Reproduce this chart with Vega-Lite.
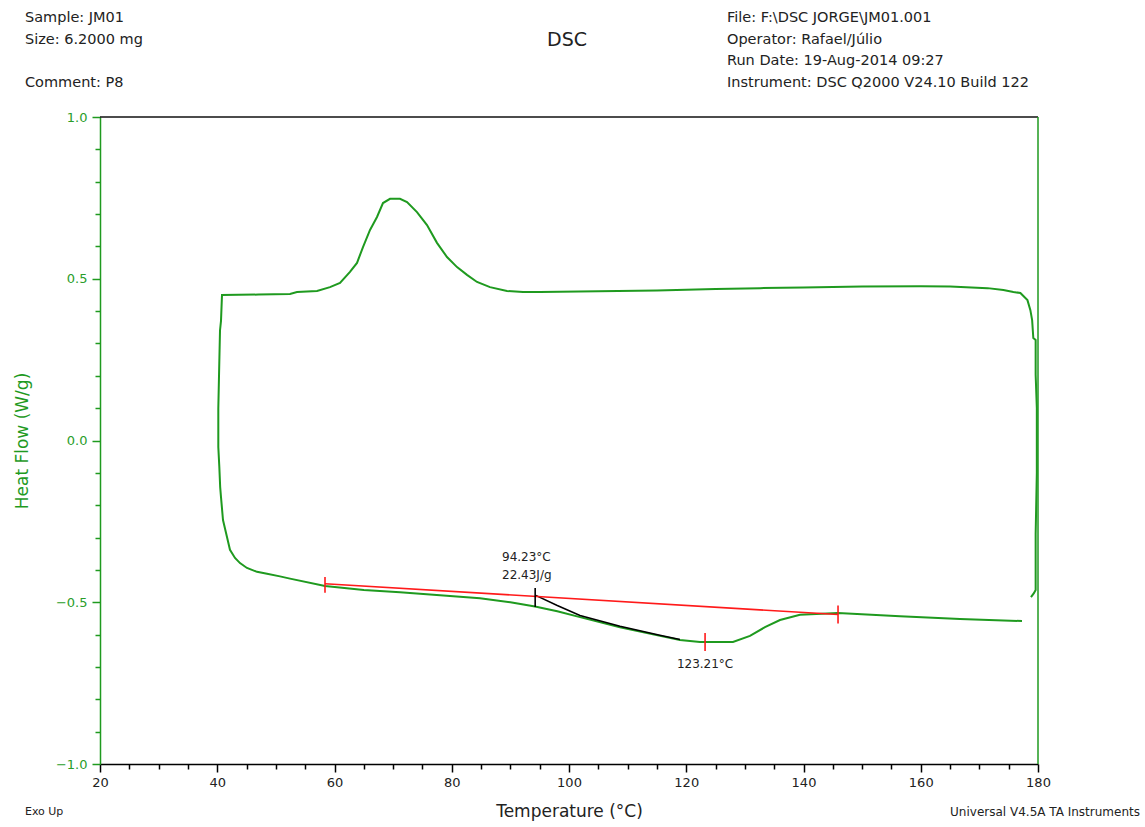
{
  "$schema": "https://vega.github.io/schema/vega-lite/v6.json",
  "width": 938,
  "height": 647,
  "autosize": {"type": "none"},
  "padding": {"left": 100, "top": 117, "right": 107, "bottom": 63},
  "background": "white",
  "config": {"view": {"stroke": null}, "font": "DejaVu Sans"},
  "datasets": {
    "curve": [
      {"i":1,"T":178.8,"HF":-0.484},{"i":2,"T":179.3,"HF":-0.472},{"i":3,"T":179.6,"HF":-0.462},{"i":4,"T":179.6,"HF":-0.29},
      {"i":5,"T":179.8,"HF":-0.1},{"i":6,"T":179.8,"HF":0.1},{"i":7,"T":179.6,"HF":0.203},{"i":8,"T":179.6,"HF":0.311},
      {"i":9,"T":179.2,"HF":0.317},{"i":10,"T":179.0,"HF":0.372},{"i":11,"T":178.7,"HF":0.403},{"i":12,"T":178.2,"HF":0.434},
      {"i":13,"T":177.0,"HF":0.456},{"i":14,"T":175.8,"HF":0.459},{"i":15,"T":174.1,"HF":0.465},{"i":16,"T":171.4,"HF":0.471},
      {"i":17,"T":165,"HF":0.476},{"i":18,"T":160,"HF":0.477},{"i":19,"T":150,"HF":0.476},{"i":20,"T":140,"HF":0.473},
      {"i":21,"T":132.6,"HF":0.471},{"i":22,"T":125,"HF":0.468},{"i":23,"T":115,"HF":0.464},{"i":24,"T":105,"HF":0.461},
      {"i":25,"T":95.05,"HF":0.459},{"i":26,"T":92.15,"HF":0.459},{"i":27,"T":89.42,"HF":0.462},{"i":28,"T":86.52,"HF":0.474},
      {"i":29,"T":84.31,"HF":0.49},{"i":30,"T":82.6,"HF":0.512},{"i":31,"T":80.9,"HF":0.536},{"i":32,"T":79.19,"HF":0.567},
      {"i":33,"T":77.48,"HF":0.611},{"i":34,"T":75.78,"HF":0.666},{"i":35,"T":74.07,"HF":0.706},{"i":36,"T":72.37,"HF":0.737},
      {"i":37,"T":71.17,"HF":0.747},{"i":38,"T":69.47,"HF":0.747},{"i":39,"T":68.27,"HF":0.734},{"i":40,"T":67.25,"HF":0.691},
      {"i":41,"T":66.06,"HF":0.651},{"i":42,"T":64.86,"HF":0.598},{"i":43,"T":63.84,"HF":0.549},{"i":44,"T":62.64,"HF":0.521},
      {"i":45,"T":60.94,"HF":0.487},{"i":46,"T":59.23,"HF":0.474},{"i":47,"T":57.02,"HF":0.462},{"i":48,"T":53.6,"HF":0.459},
      {"i":49,"T":52.41,"HF":0.453},{"i":50,"T":47,"HF":0.451},{"i":51,"T":40.81,"HF":0.45},{"i":52,"T":40.64,"HF":0.37},
      {"i":53,"T":40.47,"HF":0.34},{"i":54,"T":40.3,"HF":0.2},{"i":55,"T":40.18,"HF":0.1},{"i":56,"T":40.18,"HF":-0.02},
      {"i":57,"T":40.35,"HF":-0.08},{"i":58,"T":40.5,"HF":-0.144},{"i":59,"T":40.64,"HF":-0.175},{"i":60,"T":40.98,"HF":-0.246},
      {"i":61,"T":41.66,"HF":-0.298},{"i":62,"T":42.17,"HF":-0.338},{"i":63,"T":43.03,"HF":-0.363},{"i":64,"T":43.88,"HF":-0.379},
      {"i":65,"T":45.07,"HF":-0.394},{"i":66,"T":46.78,"HF":-0.406},{"i":67,"T":48.49,"HF":-0.412},{"i":68,"T":50.7,"HF":-0.42},
      {"i":69,"T":52.41,"HF":-0.427},{"i":70,"T":58.38,"HF":-0.45},{"i":71,"T":65,"HF":-0.462},{"i":72,"T":71.17,"HF":-0.469},
      {"i":73,"T":78,"HF":-0.478},{"i":74,"T":84.82,"HF":-0.488},{"i":75,"T":90,"HF":-0.5},{"i":76,"T":94.2,"HF":-0.513},
      {"i":77,"T":98,"HF":-0.528},{"i":78,"T":101.88,"HF":-0.546},{"i":79,"T":108.7,"HF":-0.577},{"i":80,"T":115.52,"HF":-0.604},
      {"i":81,"T":118.93,"HF":-0.617},{"i":82,"T":122.35,"HF":-0.623},{"i":83,"T":127.97,"HF":-0.623},{"i":84,"T":130.87,"HF":-0.604},
      {"i":85,"T":133.43,"HF":-0.577},{"i":86,"T":135.99,"HF":-0.555},{"i":87,"T":139.4,"HF":-0.539},{"i":88,"T":145.89,"HF":-0.533},
      {"i":89,"T":156.46,"HF":-0.543},{"i":90,"T":166.7,"HF":-0.552},{"i":91,"T":177.27,"HF":-0.558}
    ],
    "tangent": [
      {"T":94.23,"HF":-0.478},{"T":98,"HF":-0.51},{"T":101.88,"HF":-0.541},{"T":108.7,"HF":-0.574},{"T":115.5,"HF":-0.602},{"T":118.93,"HF":-0.615}
    ],
    "baseline": [
      {"T":58.38,"HF":-0.443},{"T":145.89,"HF":-0.538}
    ],
    "redMarks": [
      {"T":58.38,"HF":-0.422,"HF2":-0.471},
      {"T":145.89,"HF":-0.51,"HF2":-0.566},
      {"T":123.21,"HF":-0.595,"HF2":-0.651}
    ],
    "blackMarks": [
      {"T":94.23,"HF":-0.456,"HF2":-0.515}
    ],
    "annot": [
      {"label":"94.23°C","T":88.57,"HF":-0.36},
      {"label":"22.43J/g","T":88.57,"HF":-0.416}
    ],
    "peakLabel": [
      {"label":"123.21°C","T":123.21,"HF":-0.69}
    ],
    "headLeft": [
      {"label":"Sample: JM01","T":7.2,"HF":1.306},
      {"label":"Size:  6.2000 mg","T":7.2,"HF":1.238},
      {"label":"Comment: P8","T":7.2,"HF":1.105},
      {"label":"File: F:\\DSC JORGE\\JM01.001","T":126.95,"HF":1.306},
      {"label":"Operator: Rafael/Júlio","T":126.95,"HF":1.238},
      {"label":"Run Date: 19-Aug-2014 09:27","T":126.95,"HF":1.173},
      {"label":"Instrument: DSC Q2000 V24.10 Build 122","T":126.95,"HF":1.105}
    ],
    "footLeft": [
      {"label":"Exo Up","T":7.2,"HF":-1.148}
    ],
    "headRight": [
      {"label":"Universal V4.5A TA Instruments","T":197.4,"HF":-1.148}
    ],
    "titleText": [
      {"label":"DSC","T":99.66,"HF":1.238}
    ],
    "frameTop": [{"T":20,"T2":180,"HF":1}],
    "frameRight": [{"T":180,"HF":-1,"HF2":1}]
  },
  "layer": [
    {
      "data": {"name": "curve"},
      "mark": {"type": "line", "color": "#1f9a1f", "strokeWidth": 2, "clip": false},
      "encoding": {
        "x": {
          "field": "T", "type": "quantitative",
          "scale": {"domain": [20, 180], "nice": false, "zero": false},
          "axis": {
            "title": "Temperature (°C)",
            "values": [20,25,30,35,40,45,50,55,60,65,70,75,80,85,90,95,100,105,110,115,120,125,130,135,140,145,150,155,160,165,170,175,180],
            "tickCount": 200,
            "labelExpr": "datum.value % 20 == 0 ? datum.label : ''",
            "tickSize": {"condition": {"test": "datum.value % 20 == 0", "value": 8}, "value": 5},
            "grid": false,
            "domainColor": "#000000", "domainWidth": 1.5,
            "tickColor": "#000000", "tickWidth": 1.5,
            "labelColor": "#222222", "labelFont": "DejaVu Sans", "labelFontSize": 13,
            "labelFlush": false, "labelOverlap": false, "labelPadding": 4,
            "titleColor": "#222222", "titleFont": "DejaVu Sans", "titleFontSize": 17, "titleFontWeight": "normal",
            "titlePadding": 14
          }
        },
        "y": {
          "field": "HF", "type": "quantitative",
          "scale": {"domain": [-1, 1], "nice": false, "zero": false},
          "axis": {
            "title": "Heat Flow (W/g)",
            "values": [-1,-0.9,-0.8,-0.7,-0.6,-0.5,-0.4,-0.3,-0.2,-0.1,0,0.1,0.2,0.3,0.4,0.5,0.6,0.7,0.8,0.9,1],
            "tickCount": 200,
            "labelExpr": "abs(round(datum.value*10)) % 5 == 0 ? format(datum.value, '.1f') : ''",
            "tickSize": {"condition": {"test": "abs(round(datum.value*10)) % 5 == 0", "value": 8}, "value": 5},
            "grid": false,
            "domainColor": "#1f9a1f", "domainWidth": 1.5,
            "tickColor": "#1f9a1f", "tickWidth": 1.5,
            "labelColor": "#2a9d2a", "labelFont": "DejaVu Sans", "labelFontSize": 13,
            "labelFlush": false, "labelOverlap": false, "labelPadding": 5,
            "titleColor": "#1f9a1f", "titleFont": "DejaVu Sans", "titleFontSize": 17, "titleFontWeight": "normal",
            "titlePadding": 24
          }
        },
        "order": {"field": "i", "type": "quantitative"}
      }
    },
    {
      "data": {"name": "frameTop"},
      "mark": {"type": "rule", "color": "#111111", "strokeWidth": 1.5},
      "encoding": {
        "x": {"field": "T", "type": "quantitative"},
        "x2": {"field": "T2"},
        "y": {"field": "HF", "type": "quantitative"}
      }
    },
    {
      "data": {"name": "frameRight"},
      "mark": {"type": "rule", "color": "#1f9a1f", "strokeWidth": 1.5},
      "encoding": {
        "x": {"field": "T", "type": "quantitative"},
        "y": {"field": "HF", "type": "quantitative"},
        "y2": {"field": "HF2"}
      }
    },
    {
      "data": {"name": "tangent"},
      "mark": {"type": "line", "color": "#000000", "strokeWidth": 1.6},
      "encoding": {
        "x": {"field": "T", "type": "quantitative"},
        "y": {"field": "HF", "type": "quantitative"}
      }
    },
    {
      "data": {"name": "baseline"},
      "mark": {"type": "line", "color": "#ff1a1a", "strokeWidth": 1.6},
      "encoding": {
        "x": {"field": "T", "type": "quantitative"},
        "y": {"field": "HF", "type": "quantitative"}
      }
    },
    {
      "data": {"name": "redMarks"},
      "mark": {"type": "rule", "color": "#ff1a1a", "strokeWidth": 1.6},
      "encoding": {
        "x": {"field": "T", "type": "quantitative"},
        "y": {"field": "HF", "type": "quantitative"},
        "y2": {"field": "HF2"}
      }
    },
    {
      "data": {"name": "blackMarks"},
      "mark": {"type": "rule", "color": "#000000", "strokeWidth": 1.6},
      "encoding": {
        "x": {"field": "T", "type": "quantitative"},
        "y": {"field": "HF", "type": "quantitative"},
        "y2": {"field": "HF2"}
      }
    },
    {
      "data": {"name": "annot"},
      "mark": {"type": "text", "align": "left", "baseline": "middle", "font": "DejaVu Sans", "fontSize": 12, "color": "#222222"},
      "encoding": {
        "x": {"field": "T", "type": "quantitative"},
        "y": {"field": "HF", "type": "quantitative"},
        "text": {"field": "label"}
      }
    },
    {
      "data": {"name": "peakLabel"},
      "mark": {"type": "text", "align": "center", "baseline": "middle", "font": "DejaVu Sans", "fontSize": 12, "color": "#222222"},
      "encoding": {
        "x": {"field": "T", "type": "quantitative"},
        "y": {"field": "HF", "type": "quantitative"},
        "text": {"field": "label"}
      }
    },
    {
      "data": {"name": "headLeft"},
      "mark": {"type": "text", "align": "left", "baseline": "middle", "font": "DejaVu Sans", "fontSize": 14.5, "color": "#222222"},
      "encoding": {
        "x": {"field": "T", "type": "quantitative"},
        "y": {"field": "HF", "type": "quantitative"},
        "text": {"field": "label"}
      }
    },
    {
      "data": {"name": "footLeft"},
      "mark": {"type": "text", "align": "left", "baseline": "middle", "font": "DejaVu Sans", "fontSize": 11, "color": "#222222"},
      "encoding": {
        "x": {"field": "T", "type": "quantitative"},
        "y": {"field": "HF", "type": "quantitative"},
        "text": {"field": "label"}
      }
    },
    {
      "data": {"name": "headRight"},
      "mark": {"type": "text", "align": "right", "baseline": "middle", "font": "DejaVu Sans", "fontSize": 12, "color": "#222222"},
      "encoding": {
        "x": {"field": "T", "type": "quantitative"},
        "y": {"field": "HF", "type": "quantitative"},
        "text": {"field": "label"}
      }
    },
    {
      "data": {"name": "titleText"},
      "mark": {"type": "text", "align": "center", "baseline": "middle", "font": "DejaVu Sans", "fontSize": 19, "color": "#222222"},
      "encoding": {
        "x": {"field": "T", "type": "quantitative"},
        "y": {"field": "HF", "type": "quantitative"},
        "text": {"field": "label"}
      }
    }
  ]
}
